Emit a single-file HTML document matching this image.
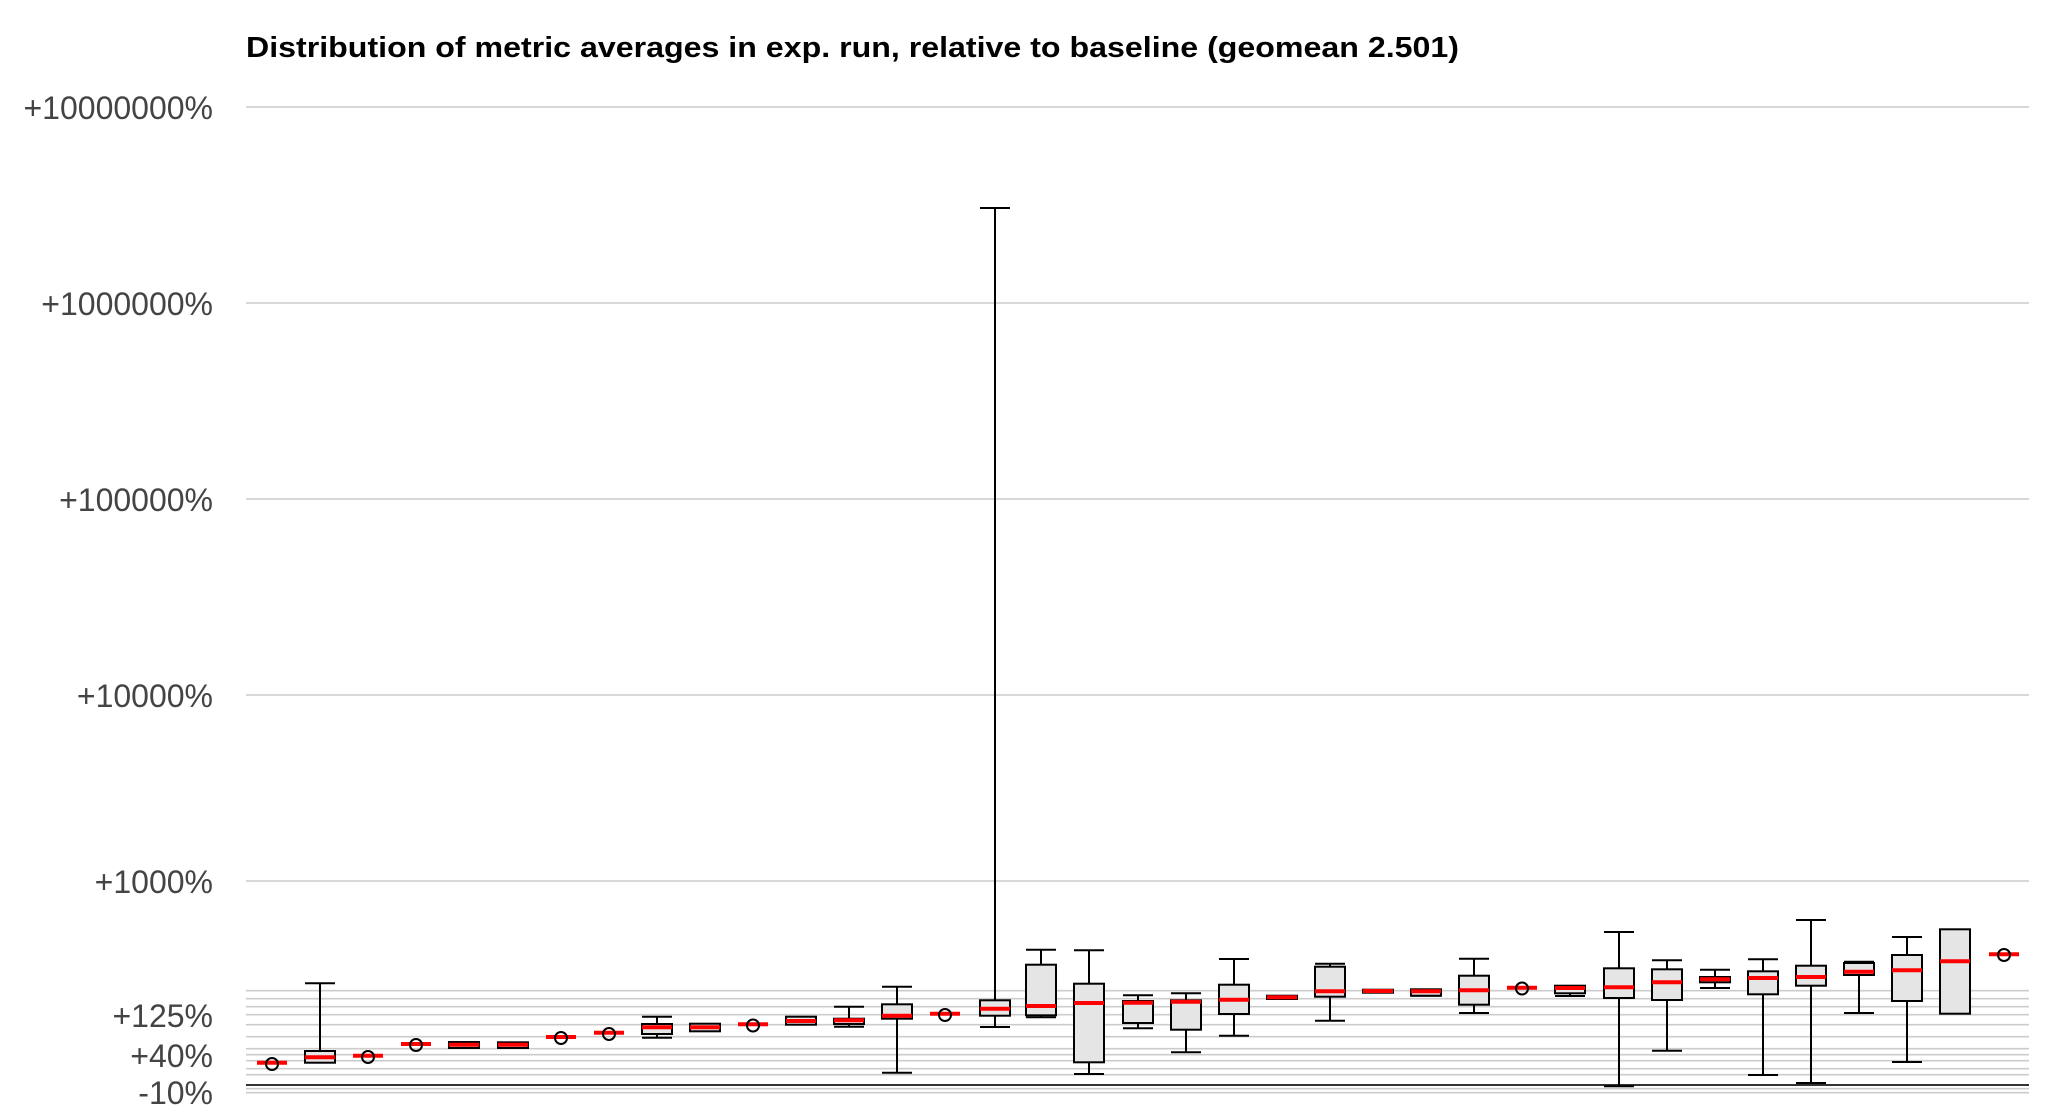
<!DOCTYPE html>
<html><head><meta charset="utf-8"><style>
html,body{margin:0;padding:0;background:#fff;}
svg{display:block;}
</style></head><body>
<svg width="2052" height="1116" viewBox="0 0 2052 1116" xmlns="http://www.w3.org/2000/svg" font-family="'Liberation Sans', Arial, sans-serif">
<rect width="2052" height="1116" fill="#fff"/>
<text x="246" y="57" font-size="29" font-weight="bold" fill="#000" textLength="1213" lengthAdjust="spacingAndGlyphs">Distribution of metric averages in exp. run, relative to baseline (geomean 2.501)</text>
<g stroke="#cccccc" stroke-width="1.6">
<line x1="246" x2="2029" y1="107" y2="107"/>
<line x1="246" x2="2029" y1="303" y2="303"/>
<line x1="246" x2="2029" y1="499" y2="499"/>
<line x1="246" x2="2029" y1="695" y2="695"/>
<line x1="246" x2="2029" y1="881" y2="881"/>
<line x1="246" x2="2029" y1="990.7" y2="990.7"/>
<line x1="246" x2="2029" y1="998.7" y2="998.7"/>
<line x1="246" x2="2029" y1="1006.7" y2="1006.7"/>
<line x1="246" x2="2029" y1="1014.7" y2="1014.7"/>
<line x1="246" x2="2029" y1="1024.7" y2="1024.7"/>
<line x1="246" x2="2029" y1="1036.7" y2="1036.7"/>
<line x1="246" x2="2029" y1="1048.7" y2="1048.7"/>
<line x1="246" x2="2029" y1="1054.7" y2="1054.7"/>
<line x1="246" x2="2029" y1="1060.7" y2="1060.7"/>
<line x1="246" x2="2029" y1="1068.7" y2="1068.7"/>
<line x1="246" x2="2029" y1="1074.7" y2="1074.7"/>
<line x1="246" x2="2029" y1="1088.7" y2="1088.7"/>
<line x1="246" x2="2029" y1="1092.7" y2="1092.7"/>
</g>
<line x1="246" x2="2029" y1="1085" y2="1085" stroke="#333" stroke-width="2"/>
<g font-size="32" fill="#444" text-anchor="end">
<text x="213" y="119">+10000000%</text>
<text x="213" y="315">+1000000%</text>
<text x="213" y="511">+100000%</text>
<text x="213" y="707">+10000%</text>
<text x="213" y="893">+1000%</text>
<text x="213" y="1027">+125%</text>
<text x="213" y="1067">+40%</text>
<text x="213" y="1104">-10%</text>
</g>
<g stroke="#000" stroke-width="2" fill="#e5e5e5">
<path fill="none" d="
M320 983.3V1062.7 M305 983.3H335
M657 1016.7V1037.7 M642 1016.7H672 M642 1037.7H672
M849 1006.7V1026.7 M834 1006.7H864 M834 1026.7H864
M897 986.7V1072.7 M882 986.7H912 M882 1072.7H912
M995 208V1027 M980 208H1010 M980 1027H1010
M1041 949.7V1017.3 M1026 949.7H1056 M1026 1017.3H1056
M1089 950.3V1074 M1074 950.3H1104 M1074 1074H1104
M1138 995.3V1028.3 M1123 995.3H1153 M1123 1028.3H1153
M1186 993.3V1052.3 M1171 993.3H1201 M1171 1052.3H1201
M1234 959V1035.7 M1219 959H1249 M1219 1035.7H1249
M1330 963.7V1020.7 M1315 963.7H1345 M1315 1020.7H1345
M1426 995.7V995.7 M1411 995.7H1441
M1474 958.7V1013 M1459 958.7H1489 M1459 1013H1489
M1570 993.3V996 M1555 996H1585
M1619 932V1086.3 M1604 932H1634 M1604 1086.3H1634
M1667 960.3V1050.7 M1652 960.3H1682 M1652 1050.7H1682
M1715 969.7V988 M1700 969.7H1730 M1700 988H1730
M1763 959.3V1075 M1748 959.3H1778 M1748 1075H1778
M1811 920V1083 M1796 920H1826 M1796 1083H1826
M1859 961.7V1013 M1844 961.7H1874 M1844 1013H1874
M1907 937V1062 M1892 937H1922 M1892 1062H1922
"/>
<rect x="305" y="1051" width="30" height="11.7"/>
<rect x="449" y="1042" width="30" height="6"/>
<rect x="498" y="1042.3" width="30" height="5.7"/>
<rect x="642" y="1024" width="30" height="10"/>
<rect x="690" y="1023.7" width="30" height="7.6"/>
<rect x="786" y="1016.7" width="30" height="8"/>
<rect x="834" y="1018.7" width="30" height="5.3"/>
<rect x="882" y="1004.3" width="30" height="14.4"/>
<rect x="980" y="1000.3" width="30" height="15.4"/>
<rect x="1026" y="964.7" width="30" height="50.6"/>
<rect x="1074" y="983.7" width="30" height="78.6"/>
<rect x="1123" y="1001" width="30" height="22"/>
<rect x="1171" y="1000.3" width="30" height="29.4"/>
<rect x="1219" y="984.7" width="30" height="29.3"/>
<rect x="1267" y="995.7" width="30" height="3.3"/>
<rect x="1315" y="966.7" width="30" height="30"/>
<rect x="1363" y="989.7" width="30" height="3"/>
<rect x="1411" y="989.3" width="30" height="6.4"/>
<rect x="1459" y="975.7" width="30" height="29"/>
<rect x="1555" y="985.7" width="30" height="7.6"/>
<rect x="1604" y="968.3" width="30" height="29.7"/>
<rect x="1652" y="969.3" width="30" height="30.7"/>
<rect x="1700" y="977" width="30" height="5.3"/>
<rect x="1748" y="971.3" width="30" height="23"/>
<rect x="1796" y="965.7" width="30" height="20"/>
<rect x="1844" y="963" width="30" height="12"/>
<rect x="1892" y="955" width="30" height="46"/>
<rect x="1940" y="929.3" width="30" height="84.4"/>
</g>
<g stroke="#ff0000" stroke-width="4">
<path d="
M257 1062.7H287 M305 1057.3H335 M353 1055.7H383 M401 1044H431 M449 1044.7H479 M498 1044.7H528
M546 1037H576 M594 1032.7H624 M642 1027.3H672 M690 1027.3H720 M738 1024.3H768 M786 1021H816
M834 1020.3H864 M882 1015.7H912 M930 1013.7H960 M980 1008.7H1010 M1026 1006H1056 M1074 1003H1104
M1123 1002.7H1153 M1171 1001.7H1201 M1219 999.7H1249 M1267 997.3H1297 M1315 991.3H1345 M1363 991H1393
M1411 991.3H1441 M1459 990.3H1489 M1507 987.7H1537 M1555 988H1585 M1604 987.3H1634 M1652 982.3H1682
M1700 979.3H1730 M1748 978H1778 M1796 977H1826 M1844 971.7H1874 M1892 970.3H1922 M1940 961.3H1970
M1989 954.3H2019"/>
</g>
<g fill="none" stroke="#000" stroke-width="2">
<circle cx="272" cy="1064" r="6"/>
<circle cx="368" cy="1057" r="6"/>
<circle cx="416" cy="1045" r="6"/>
<circle cx="561" cy="1038" r="6"/>
<circle cx="609" cy="1034" r="6"/>
<circle cx="753" cy="1025.5" r="6"/>
<circle cx="945" cy="1015" r="6"/>
<circle cx="1522" cy="988.5" r="6"/>
<circle cx="2004" cy="955" r="6"/>
</g>
</svg>
</body></html>
